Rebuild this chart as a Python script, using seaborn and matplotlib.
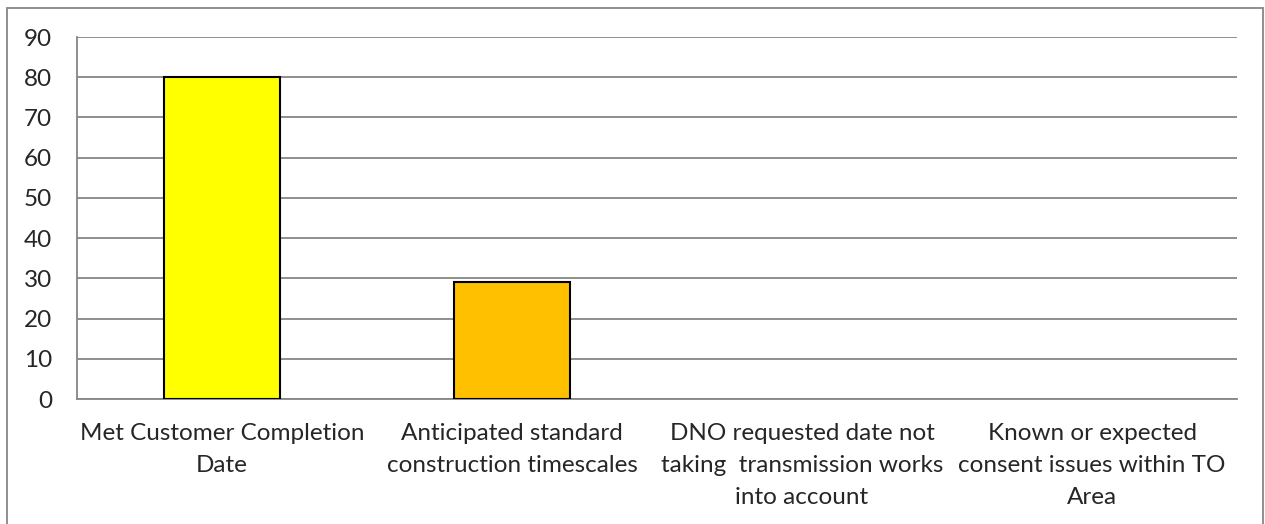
import pandas as pd
import seaborn as sns
import matplotlib.pyplot as plt
from matplotlib.patches import Rectangle

# data
categories = [
    "Met Customer Completion\nDate",
    "Anticipated standard\nconstruction timescales",
    "DNO requested date not\ntaking  transmission works\ninto account",
    "Known or expected\nconsent issues within TO\nArea",
]
counts = [80, 29, 0, 0]
bar_colors = ["#FFFF00", "#FFC000", "#FFC000", "#FFC000"]
y_ticks = list(range(0, 100, 10))

df = pd.DataFrame({"reason": categories, "count": counts})

sns.set_style("white")
plt.rcParams["font.family"] = ["Lato", "DejaVu Sans"]

fig = plt.figure(figsize=(12.65, 5.24), dpi=100)
ax = fig.add_axes([77 / 1265, 1 - 399 / 524, 1160 / 1265, 362 / 524])

sns.barplot(data=df, x="reason", y="count", hue="reason", palette=bar_colors,
            legend=False, width=0.4, saturation=1, edgecolor="black", linewidth=1.5,
            ax=ax, zorder=3)
# empty categories draw nothing
for bar in ax.patches:
    if bar.get_height() == 0:
        bar.set_linewidth(0)

ax.set_ylim(0, 90)
ax.set_xlim(-0.5, len(categories) - 0.5)
ax.set_yticks(y_ticks)
ax.yaxis.grid(True, color="#868686", linewidth=1.3, zorder=0)
ax.set_axisbelow(True)

# category labels between boundary ticks, like Excel
ax.set_xticks([i - 0.5 for i in range(len(categories) + 1)])
ax.set_xticklabels([])
ax.set_xticks(range(len(categories)), minor=True)
ax.set_xticklabels(categories, minor=True, fontsize=17.5, linespacing=1.65)
ax.tick_params(axis="x", which="minor", length=0, pad=17)
ax.tick_params(axis="x", which="major", direction="out", length=7, width=1.3, color="#868686")
ax.tick_params(axis="y", direction="out", length=6, width=1.3, color="#868686", labelsize=17.5, pad=12)

for side in ["top", "right"]:
    ax.spines[side].set_visible(False)
for side in ["left", "bottom"]:
    ax.spines[side].set_color("#868686")
    ax.spines[side].set_linewidth(1.3)

ax.set_xlabel("")
ax.set_ylabel("")

# outer chart border
fig.patches.append(Rectangle((7 / 1265, -10 / 524), 1256 / 1265, 526 / 524, transform=fig.transFigure,
                             fill=False, edgecolor="#868686", linewidth=1.3))

plt.savefig("out.png", dpi=100)
